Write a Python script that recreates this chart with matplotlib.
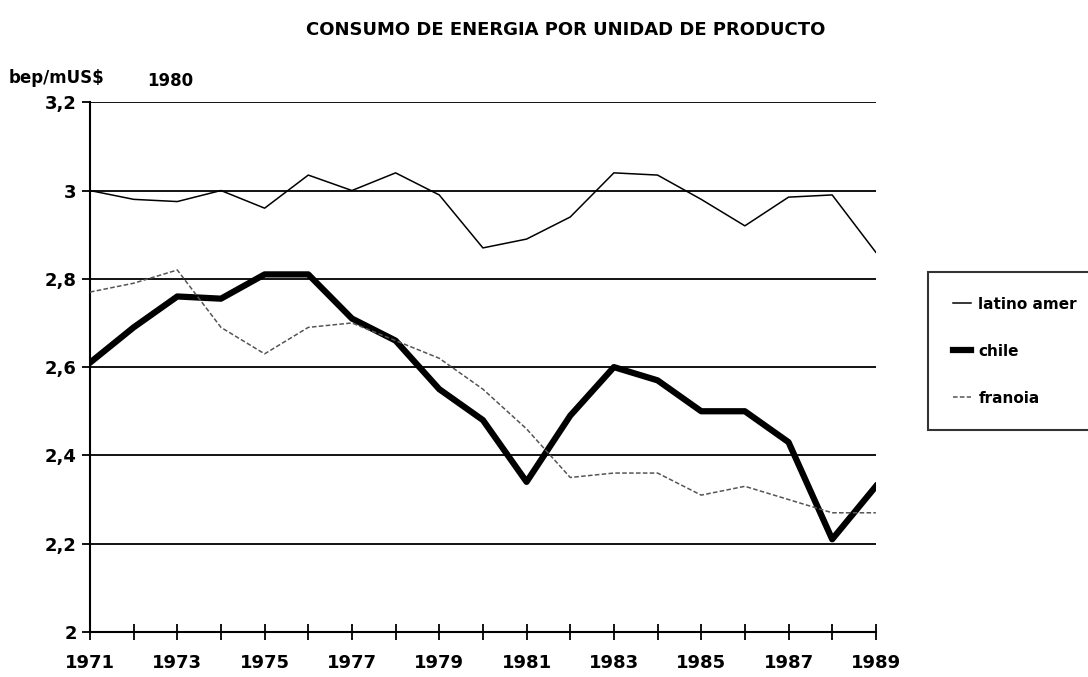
import matplotlib.pyplot as plt
import numpy as np

plt.rcParams['font.family'] = ['DejaVu Sans']

years = np.arange(1971, 1990)
latino_amer = [3.00, 2.98, 2.975, 3.00, 2.96, 3.035, 3.00, 3.04, 2.99, 2.87,
               2.89, 2.94, 3.04, 3.035, 2.98, 2.92, 2.985, 2.99, 2.86]
chile = [2.61, 2.69, 2.76, 2.755, 2.81, 2.81, 2.71, 2.66, 2.55, 2.48,
         2.34, 2.49, 2.60, 2.57, 2.50, 2.50, 2.43, 2.21, 2.33]
francia = [2.77, 2.79, 2.82, 2.69, 2.63, 2.69, 2.70, 2.66, 2.62, 2.55,
           2.46, 2.35, 2.36, 2.36, 2.31, 2.33, 2.30, 2.27, 2.27]
yticks = [2.0, 2.2, 2.4, 2.6, 2.8, 3.0, 3.2]
ytick_labels = ['2', '2,2', '2,4', '2,6', '2,8', '3', '3,2']

fig = plt.figure(figsize=(10.88, 6.77), dpi=100)
ax = fig.add_axes([0.0827, 0.0665, 0.7223, 0.7825])

# grid lines
for v in yticks[1:]:
    ax.axhline(v, color='black', linewidth=1.3, zorder=1)

ax.plot(years, latino_amer, color='black', linewidth=1.1, label='latino amer', zorder=3)
ax.plot(years, chile, color='black', linewidth=4.5, label='chile', zorder=2)
ax.plot(years, francia, color='#555555', linewidth=1.1, linestyle=(0, (3, 1.5)),
        label='franoia', zorder=3)

ax.set_xlim(1971, 1989)
ax.set_ylim(2.0, 3.2)
ax.set_yticks(yticks)
ax.set_yticklabels(ytick_labels, fontsize=13, fontweight='bold')
ax.set_xticks(years)
ax.set_xticklabels([str(y) if (y - 1971) % 2 == 0 else '' for y in years],
                   fontsize=13, fontweight='bold')
ax.tick_params(axis='x', direction='inout', length=12, width=1.3, pad=10)
ax.tick_params(axis='y', direction='out', length=6, width=1.3)
ax.spines['top'].set_visible(False)
ax.spines['right'].set_visible(False)
ax.spines['left'].set_linewidth(1.5)
ax.spines['bottom'].set_linewidth(1.5)

fig.text(0.52, 0.955, 'CONSUMO DE ENERGIA POR UNIDAD DE PRODUCTO',
         ha='center', va='center', fontsize=13, fontweight='bold')
fig.text(0.008, 0.885, 'bep/mUS$', ha='left', va='center', fontsize=12, fontweight='bold')
fig.text(0.135, 0.88, '1980', ha='left', va='center', fontsize=12, fontweight='bold')

leg = fig.legend(loc='upper left', bbox_to_anchor=(0.853, 0.598), frameon=True,
                 fancybox=False, handlelength=1.2, handletextpad=0.5,
                 labelspacing=2.1, borderpad=1.6, borderaxespad=0,
                 prop={'weight': 'bold', 'size': 11})
leg.get_frame().set_edgecolor('black')
leg.get_frame().set_linewidth(1.5)

fig.savefig('out.png', dpi=100)
